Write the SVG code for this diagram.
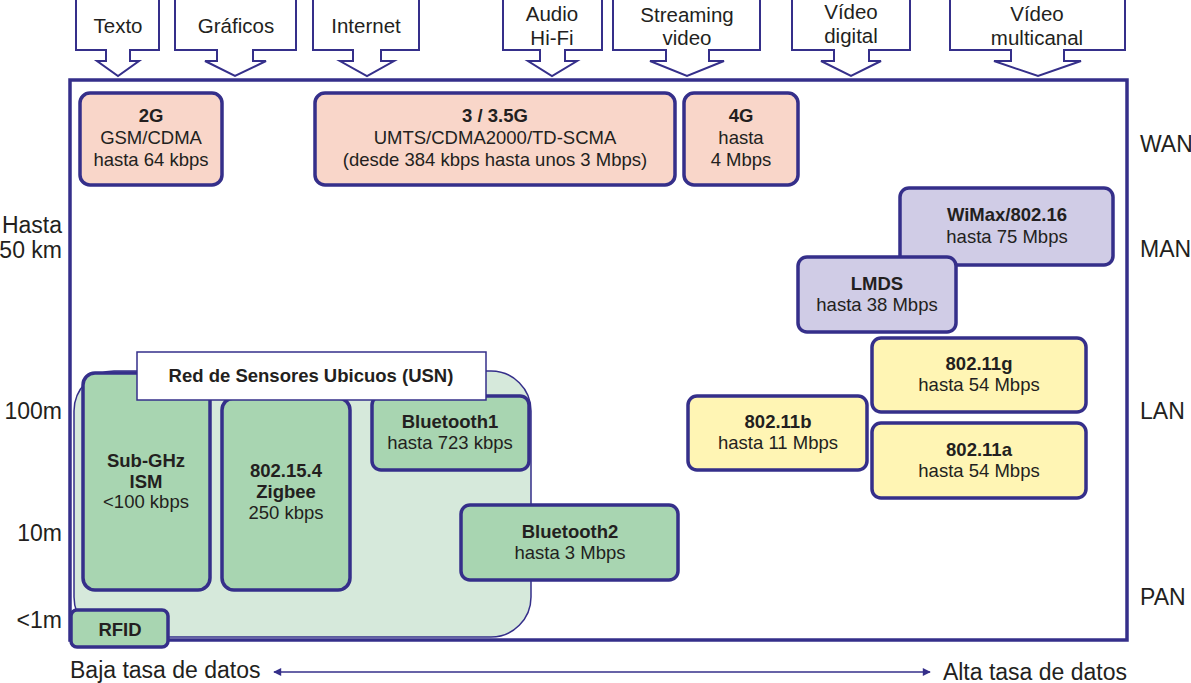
<svg xmlns="http://www.w3.org/2000/svg" width="1191" height="683" viewBox="0 0 1191 683">
<defs>
<style>
text{font-family:"Liberation Sans",Arial,sans-serif;fill:#231f20;text-anchor:middle}
.t{font-size:18.5px}
.b{font-size:18.5px;font-weight:bold}
.top{font-size:20.5px}
.ax{font-size:23px}
.r{text-anchor:end}
.l{text-anchor:start}
.call{fill:#fff;stroke:#352f8a;stroke-width:2}
.node{stroke:#352f8a;stroke-width:3.5}
.wan{fill:#f9d6c9}
.man{fill:#d0cce6}
.lan{fill:#fff5b4}
.pan{fill:#a8d5b1}
</style>
<marker id="ah" viewBox="0 0 10 10" refX="9" refY="5" markerWidth="10" markerHeight="8" markerUnits="userSpaceOnUse" orient="auto-start-reverse">
<path d="M0,0 L10,5 L0,10 Z" fill="#352f8a"/>
</marker>
</defs>
<rect width="1191" height="683" fill="#fff"/>

<g id="applications">
<g id="app-texto"><path class="call" d="M76,-2 V50 H106 V61 H97 L118,76 L139,61 H130 V50 H159 V-2 Z"/><text class="top" x="118" y="33">Texto</text></g>
<g id="app-graficos"><path class="call" d="M175,-2 V50 H217 V61 H205 L235,76 L266,61 H253 V50 H296 V-2 Z"/><text class="top" x="236" y="33">Gráficos</text></g>
<g id="app-internet"><path class="call" d="M313,-2 V50 H353 V61 H340 L367,76 L394,61 H381 V50 H419 V-2 Z"/><text class="top" x="366" y="33">Internet</text></g>
<g id="app-audio"><path class="call" d="M503,-2 V50 H540 V61 H528 L552,76 L577,61 H565 V50 H602 V-2 Z"/><text class="top" x="552" y="21">Audio</text><text class="top" x="552" y="45">Hi-Fi</text></g>
<g id="app-streaming"><path class="call" d="M613,-2 V50 H666 V61 H650 L687,76 L724,61 H709 V50 H760 V-2 Z"/><text class="top" x="687" y="22">Streaming</text><text class="top" x="687" y="45">video</text></g>
<g id="app-video-digital"><path class="call" d="M792,-2 V50 H834 V61 H821 L851,76 L881,61 H869 V50 H910 V-2 Z"/><text class="top" x="851" y="19">Vídeo</text><text class="top" x="851" y="43">digital</text></g>
<g id="app-video-multicanal"><path class="call" d="M950,-2 V50 H1011 V61 H994 L1038,76 L1081,61 H1064 V50 H1125 V-2 Z"/><text class="top" x="1037" y="21">Vídeo</text><text class="top" x="1037" y="45">multicanal</text></g>
</g>

<g id="frame"><rect x="70" y="80" width="1057" height="560" fill="none" stroke="#352f8a" stroke-width="3.5"/></g>

<g id="axis-labels">
<text class="ax r" x="62" y="233">Hasta</text>
<text class="ax r" x="62" y="258">50 km</text>
<text class="ax r" x="62" y="419">100m</text>
<text class="ax r" x="62" y="541">10m</text>
<text class="ax r" x="62" y="628">&lt;1m</text>
<text class="ax l" x="1140" y="152">WAN</text>
<text class="ax l" x="1140" y="257">MAN</text>
<text class="ax l" x="1140" y="419">LAN</text>
<text class="ax l" x="1140" y="605">PAN</text>
<text class="ax l" x="70" y="678">Baja tasa de datos</text>
<text class="ax r" x="1127" y="680">Alta tasa de datos</text>
</g>

<g id="connectors">
<line x1="274" y1="672" x2="930" y2="672" stroke="#352f8a" stroke-width="1.6" marker-start="url(#ah)" marker-end="url(#ah)"/>
</g>

<g id="n-2g"><rect class="node wan" x="80" y="93" width="142" height="92" rx="10"/><text class="b" x="151" y="122">2G</text><text class="t" x="151" y="144">GSM/CDMA</text><text class="t" x="151" y="166">hasta 64 kbps</text></g>
<g id="n-3g"><rect class="node wan" x="315" y="93" width="360" height="92" rx="10"/><text class="b" x="495" y="122">3 / 3.5G</text><text class="t" x="495" y="144">UMTS/CDMA2000/TD-SCMA</text><text class="t" x="495" y="166">(desde 384 kbps hasta unos 3 Mbps)</text></g>
<g id="n-4g"><rect class="node wan" x="684" y="93" width="114" height="92" rx="10"/><text class="b" x="741" y="122">4G</text><text class="t" x="741" y="144">hasta</text><text class="t" x="741" y="166">4 Mbps</text></g>

<g id="n-wimax"><rect class="node man" x="900" y="188" width="213" height="77" rx="9"/><text class="b" x="1007" y="221">WiMax/802.16</text><text class="t" x="1007" y="243">hasta 75 Mbps</text></g>
<g id="n-lmds"><rect class="node man" x="798" y="257" width="158" height="75" rx="9"/><text class="b" x="877" y="290">LMDS</text><text class="t" x="877" y="311">hasta 38 Mbps</text></g>

<g id="n-80211g"><rect class="node lan" x="872" y="338" width="214" height="74" rx="9"/><text class="b" x="979" y="370">802.11g</text><text class="t" x="979" y="391">hasta 54 Mbps</text></g>
<g id="n-80211b"><rect class="node lan" x="688" y="396" width="179" height="74" rx="9"/><text class="b" x="778" y="428">802.11b</text><text class="t" x="778" y="449">hasta 11 Mbps</text></g>
<g id="n-80211a"><rect class="node lan" x="872" y="423" width="214" height="75" rx="9"/><text class="b" x="979" y="456">802.11a</text><text class="t" x="979" y="477">hasta 54 Mbps</text></g>

<g id="usn">
<rect x="74" y="371" width="457" height="266" rx="40" fill="#d6e9db" stroke="#352f8a" stroke-width="1.5"/>
<g id="n-subghz"><rect class="node pan" x="83" y="373" width="127" height="217" rx="12"/><text class="b" x="146" y="467">Sub-GHz</text><text class="b" x="146" y="488">ISM</text><text class="t" x="146" y="508">&lt;100 kbps</text></g>
<g id="n-zigbee"><rect class="node pan" x="222" y="398" width="128" height="192" rx="12"/><text class="b" x="286" y="477">802.15.4</text><text class="b" x="286" y="498">Zigbee</text><text class="t" x="286" y="519">250 kbps</text></g>
<g id="n-bluetooth1"><rect class="node pan" x="372" y="396" width="157" height="74" rx="9"/><text class="b" x="450" y="428">Bluetooth1</text><text class="t" x="450" y="449">hasta 723 kbps</text></g>
<g id="usn-label"><rect x="137" y="352" width="349" height="48" fill="#fff" stroke="#352f8a" stroke-width="1.5"/><text class="b" x="311" y="382">Red de Sensores Ubicuos (USN)</text></g>
</g>

<g id="n-bluetooth2"><rect class="node pan" x="461" y="505" width="217" height="75" rx="9"/><text class="b" x="570" y="538">Bluetooth2</text><text class="t" x="570" y="559">hasta 3 Mbps</text></g>
<g id="n-rfid"><rect class="node pan" x="71" y="610" width="97" height="37" rx="6"/><text class="b" x="120" y="636">RFID</text></g>
</svg>
